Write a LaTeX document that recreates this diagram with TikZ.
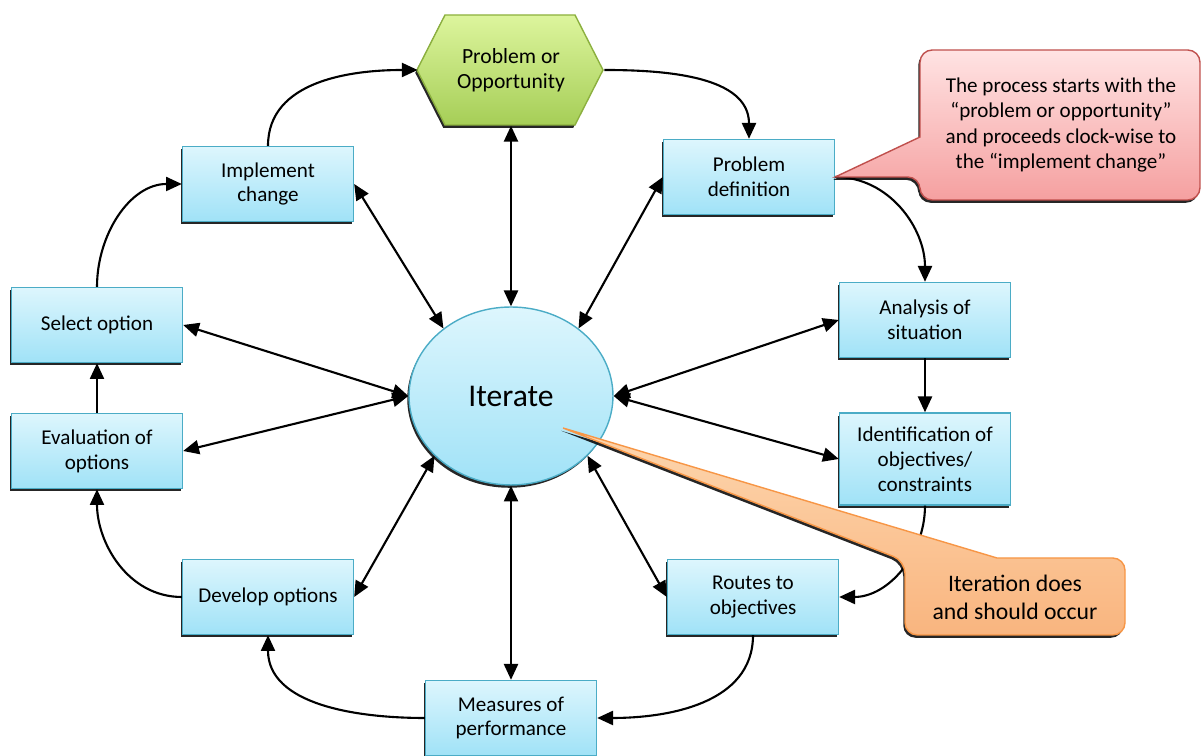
\documentclass[tikz,border=0pt]{standalone}
\usepackage{fontspec}
\setmainfont{Carlito}
\usetikzlibrary{arrows.meta,shapes.geometric,shadows}

\definecolor{boxtop}{HTML}{DDF6FD}
\definecolor{boxbot}{HTML}{A0E2F7}
\definecolor{boxline}{HTML}{4BACC6}
\definecolor{hextop}{HTML}{DDF59D}
\definecolor{hexbot}{HTML}{A6CE57}
\definecolor{hexline}{HTML}{8CB03F}
\definecolor{redtop}{HTML}{FFE3E3}
\definecolor{redbot}{HTML}{F5A0A0}
\definecolor{redline}{HTML}{C0504D}
\definecolor{orgtop}{HTML}{FDD6AE}
\definecolor{orgbot}{HTML}{F9B57F}
\definecolor{orgline}{HTML}{F79646}

\tikzset{
	darkshadow/.style={drop shadow={shadow xshift=-1pt,shadow yshift=-1.6pt,fill=black,opacity=0.85}},
	stage/.style={rectangle, draw=boxline, line width=0.8pt, top color=boxtop, bottom color=boxbot,
		minimum width=3.42cm, minimum height=1.5cm, align=center, font=\fontsize{12}{14.2}\selectfont, darkshadow},
	hub/.style={ellipse, draw=boxline, line width=0.8pt, top color=boxtop, bottom color=boxbot,
		minimum width=4.08cm, minimum height=3.56cm, inner sep=0pt, font=\fontsize{18}{20}\selectfont, darkshadow},
	hexagon/.style={draw=hexline, line width=0.8pt, top color=hextop, bottom color=hexbot, darkshadow},
	hexlabel/.style={minimum width=3.72cm, minimum height=2.22cm, align=center, font=\fontsize{12.3}{14.4}\selectfont},
	rednote/.style={draw=redline, line width=0.8pt, top color=redtop, bottom color=redbot, rounded corners=7pt, darkshadow},
	orgnote/.style={draw=orgline, line width=0.8pt, top color=orgtop, bottom color=orgbot, rounded corners=7pt, darkshadow},
	notetext/.style={align=center, font=\fontsize{12}{14.6}\selectfont},
	link/.style={->, line width=1.2pt},
	twoway/.style={<->, line width=1.2pt}
}

\begin{document}
\begin{tikzpicture}[x=0.02cm, y=0.02cm, >={Triangle[length=9pt,width=8pt]}]
	\useasboundingbox (0,0) rectangle (1201,756);

	% start: hexagon
	\path[hexagon] (417,686) -- (445,741) -- (575,741) -- (603,686) -- (575,631) -- (445,631) -- cycle;
	\node[hexlabel] (hex) at (511,686) {Problem or\\Opportunity};

	% the steps, clock-wise
	\node[stage] (pdef) at (749,579) {Problem\\definition};
	\node[stage] (ana) at (925,436) {Analysis of\\situation};
	\node[stage, minimum height=1.84cm] (ident) at (925,297) {Identification of\\objectives/\\constraints};
	\node[stage] (rou) at (753,159) {Routes to\\objectives};
	\node[stage] (meas) at (511,38) {Measures of\\performance};
	\node[stage] (dev) at (268,159) {Develop options};
	\node[stage] (eval) at (97,305) {Evaluation of\\options};
	\node[stage] (sel) at (97,431) {Select option};
	\node[stage] (imp) at (268,572) {Implement\\change};

	\node[hub] (it) at (511,360) {Iterate};

	% cycle
	\draw[link] (hex.east) to[out=0,in=90] (pdef.north);
	\draw[link] (pdef.east) to[out=0,in=90] (ana.north);
	\draw[link] (ana) -- (ident);
	\draw[link] (ident.south) to[out=-90,in=0] (rou.east);
	\draw[link] (rou.south) to[out=-90,in=0] (meas.east);
	\draw[link] (meas.west) to[out=180,in=-90] (dev.south);
	\draw[link] (dev.west) to[out=180,in=-90] (eval.south);
	\draw[link] (eval) -- (sel);
	\draw[link] (sel.north) to[out=90,in=180] (imp.west);
	\draw[link] (imp.north) to[out=90,in=180] (hex.west);

	% to and from iterate
	\draw[twoway] (hex) -- (it);
	\draw[twoway] (pdef.west) -- (it.45);
	\draw[twoway] (ana.west) -- (it.east);
	\draw[twoway] (ident.west) -- (it.east);
	\draw[twoway] (rou.west) -- (it.-38);
	\draw[twoway] (meas) -- (it);
	\draw[twoway] (dev.east) -- (it.218);
	\draw[twoway] (eval.east) -- (it.west);
	\draw[twoway] (sel.east) -- (it.west);
	\draw[twoway] (imp.east) -- (it.135);

	% notes
	\path[rednote] (1060,556) -- (920,556) -- (920,579) [sharp corners] -- (pdef.east) -- (920,619)
		[rounded corners=7pt] -- (920,706) -- (1200,706) -- (1200,556) -- cycle;
	\node[notetext] (startnote) at (1061,631) {The process starts with the\\“problem or opportunity”\\and proceeds clock-wise to\\the “implement change”};

	\coordinate (itspot) at (563,328);
	\path[orgnote] (1015,121) -- (905,121) -- (905,195) [sharp corners] -- (itspot) -- (997,198)
		[rounded corners=7pt] -- (1125,198) -- (1125,121) -- cycle;
	\node[notetext, font=\fontsize{13.5}{16}\selectfont] (iternote) at (1015,159) {Iteration does\\and should occur};
\end{tikzpicture}
\end{document}
